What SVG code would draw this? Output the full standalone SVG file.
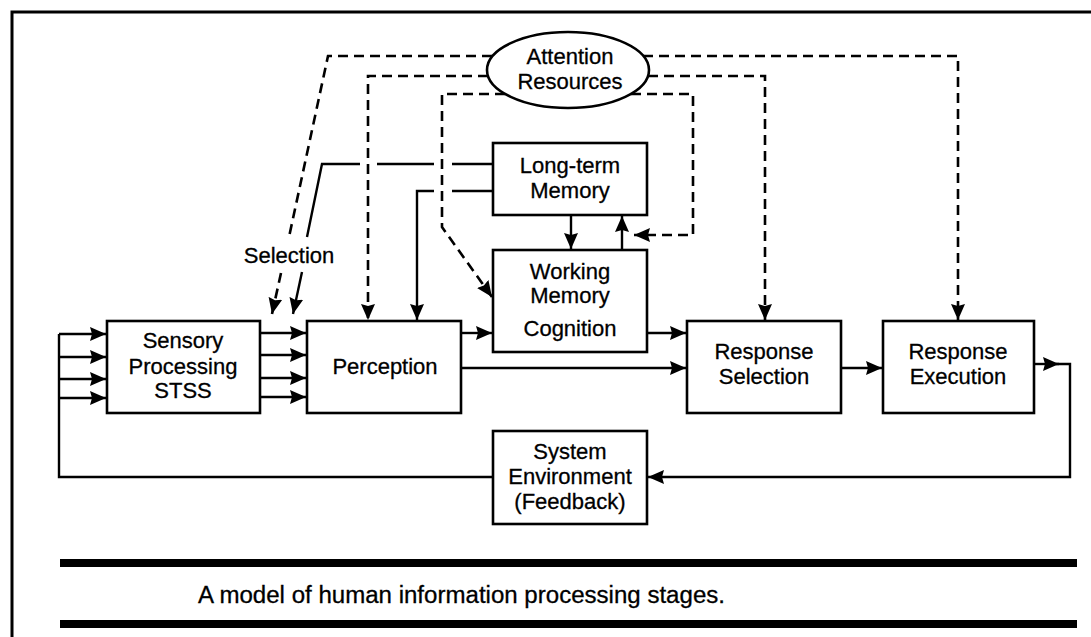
<svg xmlns="http://www.w3.org/2000/svg" width="1091" height="637" viewBox="0 0 1091 637">
<defs>
<marker id="ah" markerUnits="userSpaceOnUse" markerWidth="18" markerHeight="16" refX="16" refY="8" orient="auto">
<path d="M0,1 L16,8 L0,15 L2,8 Z" fill="#000"/>
</marker>
<style>
.box{fill:#fff;stroke:#000;stroke-width:2.6}
.t{font-family:"Liberation Sans","DejaVu Sans",sans-serif;font-size:22px;fill:#000;stroke:#000;stroke-width:0.3;text-anchor:middle}
.c{fill:none;stroke:#000;stroke-width:2.4}
.d{fill:none;stroke:#000;stroke-width:2.6;stroke-dasharray:10 6}
.arr{marker-end:url(#ah)}
.rule{stroke:#000;stroke-width:8}
</style>
</defs>
<rect width="1091" height="637" fill="#fff"/>
<path d="M12,637 L12,12 L1091,12" fill="none" stroke="#000" stroke-width="3"/>

<g id="connectors">
<path class="d" d="M492,56 L328,56 L289,237"/>
<path class="d arr" d="M281,273 L272,314"/>
<path class="d arr" d="M488,76 L368,76 L368,320"/>
<path class="d arr" d="M648,76 L765,76 L765,320"/>
<path class="d arr" d="M643,56 L958,56 L958,320"/>
<path class="d arr" d="M505,94 L442,94 L442,227 L492,297"/>
<path class="d arr" d="M631,94 L693,94 L693,235 L634,235"/>
<path class="c" d="M493,164 L452,164 M434,164 L377,164 M360,164 L322,164 L307,237"/>
<path class="c arr" d="M302,272 L293,314"/>
<path class="c" d="M493,191 L452,191"/>
<path class="c arr" d="M434,191 L417,191 L417,320"/>
<path class="c arr" d="M571,215 L571,249"/>
<path class="c arr" d="M622,250 L622,216"/>
<path class="c" d="M59,334 L59,477 L493,477"/>
<path class="c arr" d="M59,334 L106,334"/>
<path class="c arr" d="M59,357 L106,357"/>
<path class="c arr" d="M59,379 L106,379"/>
<path class="c arr" d="M59,398 L106,398"/>
<path class="c arr" d="M260,333 L306,333"/>
<path class="c arr" d="M260,355 L306,355"/>
<path class="c arr" d="M260,378 L306,378"/>
<path class="c arr" d="M260,397 L306,397"/>
<path class="c arr" d="M461,333 L492,333"/>
<path class="c arr" d="M647,333 L686,333"/>
<path class="c arr" d="M461,368 L686,368"/>
<path class="c arr" d="M841,368 L882,368"/>
<path class="c arr" d="M1034,364 L1059,364"/>
<path class="c arr" d="M1056,364 L1070,364 L1070,477 L648,477"/>
</g>

<g id="attention">
<ellipse cx="568" cy="70" rx="81" ry="38" fill="#fff" stroke="#000" stroke-width="2.6"/>
<text class="t" x="570" y="64">Attention</text>
<text class="t" x="570" y="89">Resources</text>
</g>
<g id="ltm">
<rect class="box" x="493" y="143" width="154" height="72"/>
<text class="t" x="570" y="173">Long-term</text>
<text class="t" x="570" y="198">Memory</text>
</g>
<g id="wm">
<rect class="box" x="493" y="250" width="154" height="102"/>
<text class="t" x="570" y="279">Working</text>
<text class="t" x="570" y="303">Memory</text>
<text class="t" x="570" y="336">Cognition</text>
</g>
<g id="sensory">
<rect class="box" x="107" y="321" width="153" height="92"/>
<text class="t" x="183" y="348">Sensory</text>
<text class="t" x="183" y="374">Processing</text>
<text class="t" x="183" y="398">STSS</text>
</g>
<g id="perception">
<rect class="box" x="307" y="321" width="154" height="92"/>
<text class="t" x="385" y="374">Perception</text>
</g>
<g id="response-selection">
<rect class="box" x="687" y="321" width="154" height="92"/>
<text class="t" x="764" y="359">Response</text>
<text class="t" x="764" y="384">Selection</text>
</g>
<g id="response-execution">
<rect class="box" x="883" y="321" width="151" height="92"/>
<text class="t" x="958" y="359">Response</text>
<text class="t" x="958" y="384">Execution</text>
</g>
<g id="system-environment">
<rect class="box" x="493" y="431" width="154" height="93"/>
<text class="t" x="570" y="459">System</text>
<text class="t" x="570" y="484">Environment</text>
<text class="t" x="570" y="509">(Feedback)</text>
</g>
<g id="selection-label">
<text class="t" x="289" y="263">Selection</text>
</g>
<g id="caption">
<line class="rule" x1="60" y1="563" x2="1077" y2="563"/>
<line class="rule" x1="60" y1="624" x2="1077" y2="624"/>
<text x="198" y="603" font-family="'Liberation Sans','DejaVu Sans',sans-serif" font-size="23" stroke="#000" stroke-width="0.3" textLength="527" lengthAdjust="spacingAndGlyphs">A model of human information processing stages.</text>
</g>
</svg>
